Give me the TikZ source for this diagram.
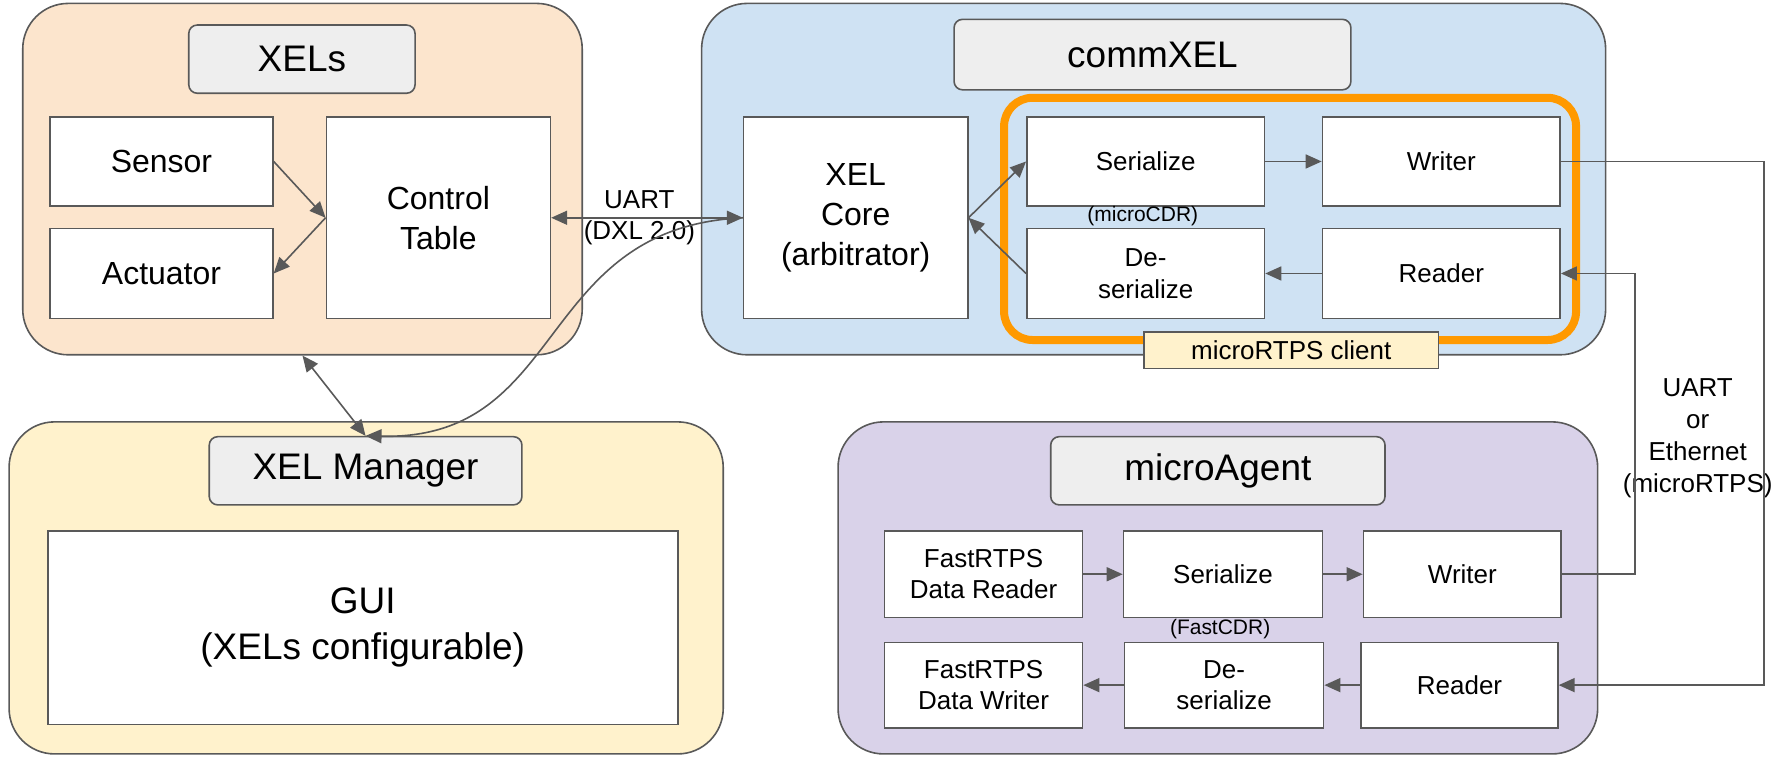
\documentclass[tikz,border=0pt]{standalone}
\usepackage{fontspec}
\setmainfont{Liberation Sans}
\usepackage{tikz}
\usetikzlibrary{arrows.meta,positioning}
\definecolor{xelsfill}{HTML}{FCE5CD}
\definecolor{commfill}{HTML}{CFE2F3}
\definecolor{mgrfill}{HTML}{FFF2CC}
\definecolor{agentfill}{HTML}{D9D2E9}
\definecolor{titlefill}{HTML}{EEEEEE}
\definecolor{edge}{HTML}{595959}
\definecolor{clientorange}{HTML}{FF9900}

\begin{document}
\begin{tikzpicture}[
    group/.style={rectangle, rounded corners=0.8cm, draw=edge, line width=0.8pt},
    titlebox/.style={rectangle, rounded corners=0.15cm, draw=edge, fill=titlefill, line width=0.8pt, minimum height=1.2cm, font=\fontsize{18.5}{22}\selectfont},
    box/.style={rectangle, draw=edge, fill=white, line width=0.8pt, align=center, font=\fontsize{16}{20}\selectfont},
    smallbox/.style={box, font=\fontsize{13}{15.8}\selectfont},
    note/.style={font=\fontsize{10.5}{12.6}\selectfont},
    wire/.style={align=center, font=\fontsize{13}{16}\selectfont},
    arrow/.style={->, line width=0.8pt, draw=edge, >={Triangle[length=8pt,width=7pt]}},
]
    \useasboundingbox (0,0) rectangle (31.36,-13.3);

    % XELs
    \node[group, fill=xelsfill, minimum width=9.84cm, minimum height=6.18cm] (xels) at (5.32,-3.15) {};
    \node[titlebox, minimum width=3.98cm] (xelstitle) at (5.31,-1.04) {XELs};
    \node[box, minimum width=3.92cm, minimum height=1.56cm] (sensor) at (2.84,-2.84) {Sensor};
    \node[box, minimum width=3.92cm, minimum height=1.58cm] (actuator) at (2.84,-4.81) {Actuator};
    \node[box, minimum width=3.94cm, minimum height=3.54cm] (ctrl) at (7.71,-3.83) {Control\\Table};

    % commXEL
    \node[group, fill=commfill, minimum width=15.9cm, minimum height=6.18cm] (comm) at (20.29,-3.15) {};
    \node[titlebox, minimum width=6.98cm, minimum height=1.24cm] (commtitle) at (20.27,-0.96) {commXEL};
    \node[box, minimum width=3.94cm, minimum height=3.54cm] (core) at (15.05,-3.83) {XEL\\Core\\(arbitrator)};
    \node[rectangle, draw=clientorange, line width=4pt, rounded corners=0.5cm, minimum width=10.06cm, minimum height=4.26cm] (client) at (22.69,-3.85) {};
    \node[smallbox, minimum width=4.18cm, minimum height=1.56cm] (ser) at (20.15,-2.84) {Serialize};
    \node[smallbox, minimum width=4.18cm, minimum height=1.56cm] (wri) at (25.35,-2.84) {Writer};
    \node[smallbox, minimum width=4.18cm, minimum height=1.58cm] (des) at (20.15,-4.81) {De-\\serialize};
    \node[smallbox, minimum width=4.18cm, minimum height=1.58cm] (rea) at (25.35,-4.81) {Reader};
    \node[note] (microcdr) at (20.1,-3.8) {(microCDR)};
    \node[smallbox, fill=mgrfill, minimum width=5.18cm, minimum height=0.64cm, inner sep=0pt] (clientlabel) at (22.71,-6.16) {microRTPS client};

    % XEL Manager
    \node[group, fill=mgrfill, minimum width=12.56cm, minimum height=5.84cm] (mgr) at (6.44,-10.34) {};
    \node[titlebox, minimum width=5.5cm] (mgrtitle) at (6.43,-8.28) {XEL Manager};
    \node[box, font=\fontsize{18.5}{23}\selectfont, minimum width=11.08cm, minimum height=3.4cm] (gui) at (6.38,-11.04) {GUI\\(XELs configurable)};

    % microAgent
    \node[group, fill=agentfill, minimum width=13.36cm, minimum height=5.84cm] (agent) at (21.42,-10.34) {};
    \node[titlebox, minimum width=5.88cm] (agenttitle) at (21.42,-8.28) {microAgent};
    \node[smallbox, minimum width=3.48cm, minimum height=1.52cm] (dreader) at (17.3,-10.1) {FastRTPS\\Data Reader};
    \node[smallbox, minimum width=3.5cm, minimum height=1.52cm] (mser) at (21.51,-10.1) {Serialize};
    \node[smallbox, minimum width=3.48cm, minimum height=1.52cm] (mwri) at (25.72,-10.1) {Writer};
    \node[smallbox, minimum width=3.48cm, minimum height=1.5cm] (dwriter) at (17.3,-12.05) {FastRTPS\\Data Writer};
    \node[smallbox, minimum width=3.5cm, minimum height=1.5cm] (mdes) at (21.53,-12.05) {De-\\serialize};
    \node[smallbox, minimum width=3.46cm, minimum height=1.5cm] (mrea) at (25.67,-12.05) {Reader};
    \node[note] (fastcdr) at (21.46,-11.06) {(FastCDR)};

    % Bus between commXEL and microAgent
    \coordinate (busout) at (31.02,-7.7);
    \coordinate (busin) at (28.76,-7.7);
    \node[wire] (buslabel) at (29.86,-7.71) {UART\\or\\Ethernet\\(microRTPS)};

    % Arrows
    \draw[arrow] (sensor.east) -- (ctrl.west);
    \draw[arrow] (ctrl.west) -- (actuator.east);
    \draw[arrow, <->] (ctrl.east) -- node[wire, pos=0.46] {UART\\(DXL 2.0)} (core.west);
    \draw[arrow] (core.west) .. controls (9.4,-4.0) and (10.0,-7.75) .. (mgrtitle.north);
    \draw[arrow, <->] (xels.south) -- (mgrtitle.north);
    \draw[arrow] (core.east) -- (ser.west);
    \draw[arrow] (des.west) -- (core.east);
    \draw[arrow] (ser) -- (wri);
    \draw[arrow] (rea) -- (des);
    \draw[arrow] (wri.east) -| (busout) |- (mrea.east);
    \draw[arrow] (mwri.east) -| (busin) |- (rea.east);
    \draw[arrow] (dreader) -- (mser);
    \draw[arrow] (mser) -- (mwri);
    \draw[arrow] (mrea) -- (mdes);
    \draw[arrow] (mdes) -- (dwriter);
\end{tikzpicture}
\end{document}
